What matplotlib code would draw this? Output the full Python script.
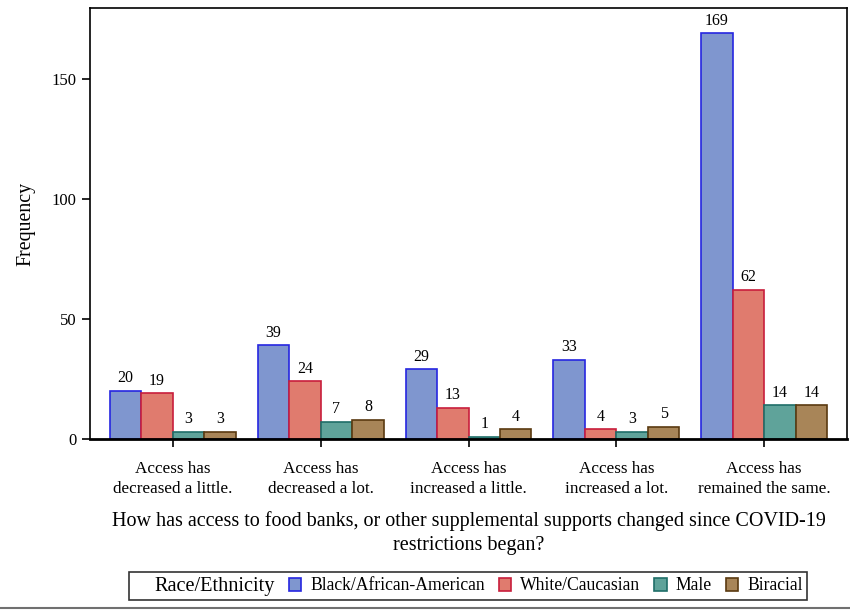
import matplotlib.pyplot as plt
import numpy as np
from matplotlib.patches import Patch
from matplotlib.lines import Line2D

plt.rcParams['font.family'] = ['Liberation Serif', 'DejaVu Serif']

categories = ['Access has\ndecreased a little.', 'Access has\ndecreased a lot.',
              'Access has\nincreased a little.', 'Access has\nincreased a lot.',
              'Access has\nremained the same.']
groups = ['Black/African-American', 'White/Caucasian', 'Male', 'Biracial']
black = [20, 39, 29, 33, 169]
white = [19, 24, 13, 4, 62]
male = [3, 7, 1, 3, 14]
biracial = [3, 8, 4, 5, 14]

fills = ['#7f96cf', '#e07b6e', '#5fa39a', '#a88558']
edges = ['#2626e0', '#c81e3c', '#1f6e68', '#5a3a10']

fig = plt.figure(figsize=(8.5, 6.14), dpi=100)
ax = fig.add_axes([90 / 850, 1 - 439 / 614, 757 / 850, 431 / 614])

x = np.arange(len(categories))
w = 0.213
series = [black, white, male, biracial]
for i, vals in enumerate(series):
    pos = x + (i - 1.5) * w
    ax.bar(pos, vals, w, color=fills[i], edgecolor=edges[i], linewidth=1.2, label=groups[i])
    for p, v in zip(pos, vals):
        ax.text(p, v + 2, str(v), ha='center', va='bottom', fontsize=11.5)

ax.set_xlim(-0.56, 4.56)
ax.set_ylim(0, 179.6)
ax.set_yticks([0, 50, 100, 150])
ax.set_xticks(x)
ax.set_xticklabels(categories, fontsize=12.3, linespacing=1.3)
ax.tick_params(axis='y', labelsize=12, length=6, width=1.2)
ax.tick_params(axis='x', length=6, width=1.2, pad=10)
for s in ax.spines.values():
    s.set_linewidth(1.2)
ax.spines['bottom'].set_linewidth(2)
ax.set_ylabel('Frequency', fontsize=14.3, labelpad=12)
ax.set_xlabel('How has access to food banks, or other supplemental supports changed since COVID-19\nrestrictions began?',
              fontsize=14.5, labelpad=10, linespacing=1.4)

handles = [Line2D([], [], linestyle='none')]
labels = ['Race/Ethnicity']
for i in range(4):
    handles.append(Patch(facecolor=fills[i], edgecolor=edges[i], linewidth=1.2))
    labels.append(groups[i])
leg = fig.legend(handles, labels, loc='center', bbox_to_anchor=(468 / 850, 1 - 586 / 614),
                 ncol=5, frameon=True, fancybox=False, edgecolor='black', fontsize=12.7,
                 handlelength=0.7, handleheight=0.7, handletextpad=0.5, columnspacing=0.8,
                 borderpad=0.25)
leg.get_frame().set_linewidth(1.2)
leg.get_texts()[0].set_fontsize(14.6)

fig.add_artist(Line2D([0, 1], [1 - 608 / 614, 1 - 608 / 614], color='#707070', linewidth=1.5))

fig.savefig('out.png', dpi=100)
